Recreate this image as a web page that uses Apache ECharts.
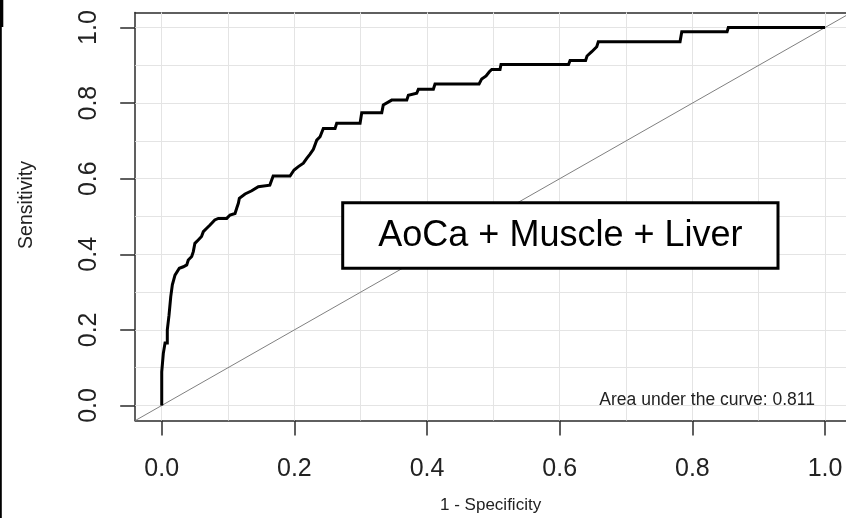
<!DOCTYPE html>
<html>
<head>
<meta charset="utf-8">
<script src="https://cdn.jsdelivr.net/npm/echarts@6/dist/echarts.min.js"></script>
<style>
html,body{margin:0;padding:0;background:#fff;}
#chart{width:846px;height:518px;}
</style>
</head>
<body>
<div id="chart"></div>
<script>
// ROC curve points (1 - specificity, sensitivity)
const fpr = [0,0,0.0024,0.0024,0.005,0.005,0.0084,0.0084,0.011,0.011,0.0136,0.0136,0.016,0.016,0.020,0.0265,0.0326,0.0377,0.040,0.0452,0.0476,0.050,0.055,0.060,0.0627,0.0678,0.0728,0.080,0.0853,0.098,0.103,0.1105,0.113,0.1155,0.117,0.1256,0.1357,0.1456,0.163,0.168,0.1934,0.1995,0.206,0.2135,0.2186,0.2236,0.2286,0.2337,0.2387,0.2436,0.2613,0.2638,0.299,0.3015,0.3317,0.334,0.3467,0.3694,0.3718,0.3844,0.3869,0.4095,0.412,0.4784,0.4824,0.489,0.4939,0.4975,0.510,0.5115,0.6133,0.6156,0.639,0.6412,0.6483,0.6558,0.6582,0.7814,0.784,0.8523,0.8542,1];
const tpr = [0,0.089,0.089,0.138,0.138,0.165,0.165,0.200,0.200,0.239,0.239,0.288,0.288,0.319,0.345,0.363,0.367,0.372,0.385,0.394,0.407,0.429,0.438,0.447,0.460,0.469,0.4775,0.491,0.495,0.495,0.504,0.508,0.522,0.535,0.548,0.5595,0.568,0.579,0.583,0.607,0.607,0.623,0.632,0.641,0.654,0.665,0.678,0.702,0.711,0.733,0.733,0.7466,0.7466,0.7746,0.7746,0.795,0.808,0.808,0.821,0.826,0.8365,0.8365,0.8505,0.8505,0.864,0.872,0.883,0.889,0.889,0.902,0.902,0.9127,0.9127,0.9246,0.936,0.949,0.9624,0.9624,0.989,0.989,1,1];
// chance diagonal (spans the plot region)
const diagonal = [[-0.04,-0.04],[1.04,1.04]];
// tick labels and grid lines
const xTicks = [0,0.2,0.4,0.6,0.8,1.0];
const yTicks = [0,0.2,0.4,0.6,0.8,1.0];
const gridVals = [0,0.1,0.2,0.3,0.4,0.5,0.6,0.7,0.8,0.9,1.0];
const xTitle = '1 - Specificity';
const yTitle = 'Sensitivity';
const aucText = 'Area under the curve: 0.811';
const modelLabel = 'AoCa + Muscle + Liver';

const FONT = '"Liberation Sans", Arial, Helvetica, sans-serif';
const rocData = fpr.map((x,i)=>[x,tpr[i]]);

const chart = echarts.init(document.getElementById('chart'), null, {renderer:'canvas'});
const axisLine = {show:true, onZero:false, lineStyle:{color:'#2b2b2b', width:1.5}};
chart.setOption({
  animation:false,
  backgroundColor:'#ffffff',
  grid:{left:135.2, top:12.4, width:710.8, height:408.2, containLabel:false, outerBoundsMode:'none'},
  xAxis:[{
    type:'value', min:-0.04, max:1.0316, position:'bottom',
    axisLine:axisLine,
    axisTick:{show:true, customValues:xTicks, length:15, lineStyle:{color:'#2b2b2b', width:1.5}},
    axisLabel:{show:true, customValues:xTicks, margin:36, fontSize:25, color:'#222', fontFamily:FONT,
      formatter:v=>Number(v).toFixed(1)},
    splitLine:{show:false},
    name:xTitle, nameLocation:'middle', nameGap:76,
    nameTextStyle:{fontSize:17, color:'#222', fontFamily:FONT}
  },{
    type:'value', min:-0.04, max:1.0316, position:'top',
    axisLine:axisLine, axisTick:{show:false}, axisLabel:{show:false}, splitLine:{show:false}
  }],
  yAxis:[{
    type:'value', min:-0.04, max:1.04, position:'left',
    axisLine:axisLine,
    axisTick:{show:true, customValues:yTicks, length:15, lineStyle:{color:'#2b2b2b', width:1.5}},
    axisLabel:{show:true, customValues:yTicks, margin:34, fontSize:25, color:'#222', fontFamily:FONT, rotate:90,
      formatter:v=>Number(v).toFixed(1)},
    splitLine:{show:false}
  }],
  series:[{
    type:'line', data:diagonal, symbol:'none', silent:true, z:2,
    lineStyle:{color:'#808080', width:1},
    markLine:{
      silent:true, symbol:['none','none'], label:{show:false}, z:1,
      lineStyle:{color:'#e4e4e4', width:1, type:'solid'},
      data: gridVals.map(v=>({xAxis:v})).concat(gridVals.map(v=>({yAxis:v})))
    }
  },{
    type:'line', data:rocData, symbol:'none', silent:true, z:5,
    lineStyle:{color:'#000', width:3, join:'miter'}
  }],
  graphic:[
    {type:'rect', shape:{x:0,y:0,width:3.3,height:27}, style:{fill:'#000'}},
    {type:'rect', shape:{x:0,y:27,width:1.8,height:491}, style:{fill:'#000'}},
    {type:'text', x:27, y:205, rotation:Math.PI/2, style:{text:yTitle, fontSize:19.5, fontFamily:FONT, fill:'#222',
      textAlign:'center', textVerticalAlign:'middle'}},
    {type:'rect', z:10, shape:{x:342.7,y:202.7,width:435.3,height:65.6},
      style:{fill:'#fff', stroke:'#000', lineWidth:3}},
    {type:'text', z:11, x:560.4, y:236, style:{text:modelLabel, fontSize:36, fontFamily:FONT, fill:'#000',
      textAlign:'center', textVerticalAlign:'middle'}},
    {type:'text', z:11, x:815, y:400, style:{text:aucText, fontSize:17.5, fontFamily:FONT, fill:'#222',
      textAlign:'right', textVerticalAlign:'middle'}}
  ]
});
</script>
</body>
</html>
